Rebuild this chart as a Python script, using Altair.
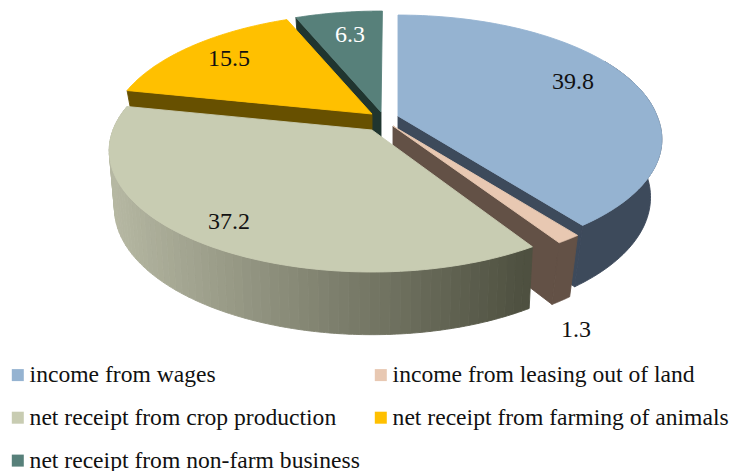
import math
import altair as alt

# ---- data ----
categories = ["income from wages", "income from leasing out of land",
              "net receipt from crop production", "net receipt from farming of animals",
              "net receipt from non-farm business"]
shares = [39.8, 1.3, 37.2, 15.5, 6.3]
share_labels = ["39.8", "1.3", "37.2", "15.5", "6.3"]
top_colors = ["#95B3D1", "#E8C8B2", "#C8CCB2", "#FFC000", "#57807A"]
side_colors = ["#3D4A5B", "#635146", None, "#675000", "#20352F"]
label_colors = ["#111111", "#111111", "#111111", "#111111", "#FFFFFF"]

# ---- layout of the 3D pie (page pixels) ----
FONT = "Liberation Serif"
R, Q, K = 259, 118, 0.169
DROP, DROP_SLOPE = 57, 0.04
shrink = [0.957, 0.957, 0.98, 0.957, 0.957]
apex = [(398, 116), (393, 126), (372, 130), (372, 114), (381, 112)]
skew = [0.05, 0.05, 0.0, 0.0, 0.0]
label_xy = [(573, 82), (576, 330), (229, 222), (229, 59), (350, 35)]
CROP_LIGHT, CROP_DARK = (0xB6, 0xB8, 0xA3), (0x4E, 0x50, 0x40)
PROJ = dict(type="identity", scale=1, translate=[-8, -8])


def rim(i, deg):
    ax, ay = apex[i]
    t = math.radians(deg)
    u, v = math.sin(t), math.cos(t)
    w = 1 + K * v
    y = -Q * v / w
    return (ax + R * u / w + skew[i] * max(0, y), ay + y)


def under(i, p):
    ax, ay = apex[i]
    return (ax + (p[0] - ax) * shrink[i], p[1] + DROP + DROP_SLOPE * (p[1] - ay))


def feature(key, pts):
    ring = [list(p) for p in pts] + [list(pts[0])]
    return {"type": "Feature", "geometry": {"type": "Polygon", "coordinates": [ring]},
            "properties": {"key": key}}


def arc(i, a, b, n=60):
    return [rim(i, a + (b - a) * j / n) for j in range(n + 1)]


starts = []
acc = 0.0
for s in shares:
    starts.append(acc)
    acc += s * 3.6

features = []
extra_domain, extra_range = [], []
for i in [4, 3, 0, 1, 2]:
    a, b = starts[i], starts[i] + shares[i] * 3.6
    if i != 2:
        key = "side" + str(i)
        extra_domain.append(key)
        extra_range.append(side_colors[i])
        p0 = apex[i]
        p1 = rim(i, b)
        if i in (3, 4):
            p1 = rim(i, a)
        features.append(feature(key, [p0, p1, under(i, p1), under(i, p0)]))
        if i in (0, 1):
            lo = max(a, 60) if i == 0 else a
            rr = arc(i, lo, b)
            features.append(feature(key, rr + [under(i, p) for p in reversed(rr)]))
    else:
        n = 70
        for j in range(n):
            t0 = a + (b - a) * j / n
            t1 = a + (b - a) * (j + 1) / n
            rr = arc(i, t0, t1, 3)
            f = (rr[0][0] - 110) / (530 - 110)
            f = min(1, max(0, f))
            col = "#%02X%02X%02X" % tuple(round(l + (d - l) * f) for l, d in zip(CROP_LIGHT, CROP_DARK))
            key = "strip" + str(j)
            extra_domain.append(key)
            extra_range.append(col)
            features.append(feature(key, rr + [under(i, p) for p in reversed(rr)]))
    features.append(feature(categories[i], [apex[i]] + arc(i, a, b, 90)))

domain = categories + extra_domain
rng = top_colors + extra_range

faces = alt.Chart(alt.Data(values=features)).mark_geoshape(strokeWidth=0.9).encode(
    color=alt.Color("properties.key:N", scale=alt.Scale(domain=domain, range=rng),
                    legend=alt.Legend(values=categories, title=None, orient="none",
                                      legendX=-2, legendY=355, columns=2, direction="horizontal",
                                      padding=0,
                                      symbolType="square", symbolSize=144, symbolStrokeWidth=0,
                                      labelFont=FONT, labelFontSize=23.6, labelColor="#111111",
                                      labelLimit=500, labelOffset=0,
                                      rowPadding=17.9, columnPadding=9, gridAlign="each")),
    stroke=alt.Stroke("properties.key:N", scale=alt.Scale(domain=domain, range=rng), legend=None),
).project(**PROJ)

label_rows = [{"t": t, "lon": p[0], "lat": p[1], "c": c}
              for t, p, c in zip(share_labels, label_xy, label_colors)]
labels = alt.Chart(alt.Data(values=label_rows)).mark_text(
    font=FONT, fontSize=24, align="center", baseline="middle"
).encode(
    longitude="lon:Q", latitude="lat:Q", text="t:N", color=alt.Color("c:N", scale=None)
).project(**PROJ)

chart = alt.layer(faces, labels).resolve_scale(color="independent").properties(
    width=721, height=463, padding=0, autosize=alt.AutoSizeParams(type="none"),
    background="#FFFFFF"
).configure_view(stroke=None)
chart.save("out.html", embed_options={"renderer": "svg", "actions": False})
